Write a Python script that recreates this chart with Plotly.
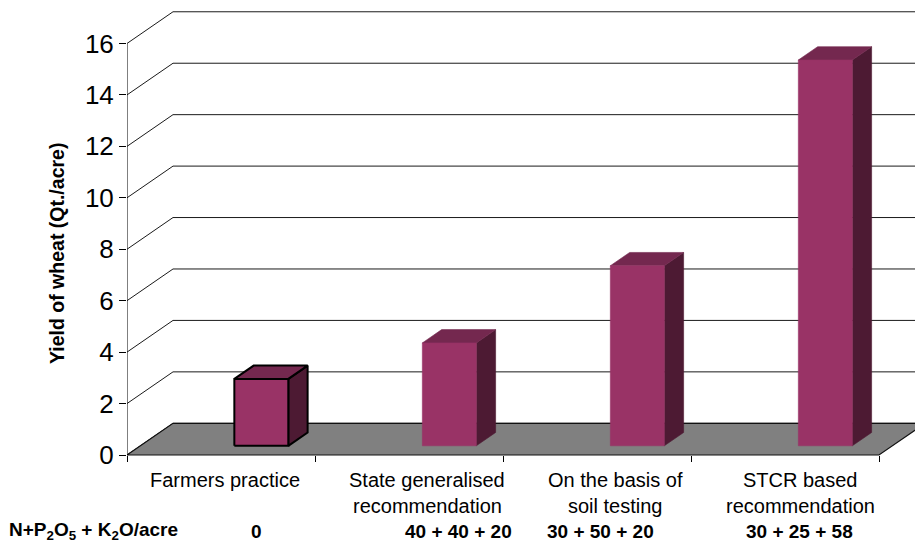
import plotly.graph_objects as go

# ---- data -------------------------------------------------------------
label_line1 = ["Farmers practice", "State generalised", "On the basis of", "STCR based"]
label_line2 = ["", "recommendation", "soil testing", "recommendation"]
yields = [2.6, 4, 7, 15]
doses = ["0", "40 + 40 + 20", "30 + 50 + 20", "30 + 25 + 58"]
dose_title = "N+P<sub>2</sub>O<sub>5</sub> + K<sub>2</sub>O/acre"
y_ticks = [0, 2, 4, 6, 8, 10, 12, 14, 16]

# ---- layout geometry (pixels) ----------------------------------------
W, H = 915, 543
LEFT = 127          # front-left corner of the floor
CAT_PX = 188        # width of one category on the front edge
BASE_PX = 455       # pixel row of value 0 on the front edge
UNIT_PX = 25.72     # pixels per value unit
DEPTH_X_PX, DEPTH_Y_PX = 46.0, 31.7   # oblique offset front -> back wall

# oblique offsets expressed in axis units
DX = DEPTH_X_PX / CAT_PX
DY = DEPTH_Y_PX / UNIT_PX

# bar footprint inside a category (ground units) and depth span
BAR_X0, BAR_W = 0.50, 0.287
D_FRONT, D_BACK = 0.29, 0.71

FRONT = "#993366"
TOP = "#74284F"
SIDE = "#4D1A33"
FLOOR = "#808080"
FONT = "Liberation Sans, Arial, sans-serif"


def proj(x, v, d):
    """Project a point (category x, value v, depth d in 0..1) onto the plane."""
    return x + d * DX, v + d * DY


def poly(points):
    xs, ys = [], []
    for x, v, d in points:
        px, py = proj(x, v, d)
        xs.append(px)
        ys.append(py)
    xs.append(xs[0])
    ys.append(ys[0])
    return xs, ys


fig = go.Figure()

# walls: diagonal lines on the side wall and horizontal lines on the back wall
n_cat = len(yields)
gx, gy = [], []
for v in y_ticks:
    for x, val, d in [(0, v, 0), (0, v, 1), (n_cat + 1, v, 1)]:
        px, py = proj(x, val, d)
        gx.append(px)
        gy.append(py)
    gx.append(None)
    gy.append(None)
fig.add_trace(go.Scatter(x=gx, y=gy, mode="lines",
                         line=dict(color="#1a1a1a", width=1),
                         hoverinfo="skip", showlegend=False))

# floor
fx, fy = poly([(0, 0, 0), (n_cat, 0, 0), (n_cat, 0, 1), (0, 0, 1)])
fig.add_trace(go.Scatter(x=fx, y=fy, mode="lines", fill="toself",
                         fillcolor=FLOOR, line=dict(color="#111111", width=1.2),
                         hoverinfo="skip", showlegend=False))

# columns
for i, v in enumerate(yields):
    xl = i + BAR_X0
    xr = xl + BAR_W
    outlined = i == 0
    faces = [
        (SIDE, [(xr, 0, D_FRONT), (xr, 0, D_BACK), (xr, v, D_BACK), (xr, v, D_FRONT)]),
        (TOP, [(xl, v, D_FRONT), (xr, v, D_FRONT), (xr, v, D_BACK), (xl, v, D_BACK)]),
        (FRONT, [(xl, 0, D_FRONT), (xr, 0, D_FRONT), (xr, v, D_FRONT), (xl, v, D_FRONT)]),
    ]
    for color, pts in faces:
        xs, ys = poly(pts)
        line = dict(color="#000000", width=2) if outlined else dict(color=color, width=0.6)
        fig.add_trace(go.Scatter(x=xs, y=ys, mode="lines", fill="toself",
                                 fillcolor=color, line=line,
                                 hoverinfo="skip", showlegend=False))

# value axis line at the front-left corner
fig.add_trace(go.Scatter(x=[0, 0], y=[0, y_ticks[-1]], mode="lines",
                         line=dict(color="#000000", width=1),
                         hoverinfo="skip", showlegend=False))

plot_w = W - LEFT


def px_x(p):
    return (p - LEFT) / plot_w


def px_y(p):
    return 1 - p / H


annotations = []
label_x = [225, 427, 615, 800]
for lx, l1, l2 in zip(label_x, label_line1, label_line2):
    annotations.append(dict(x=px_x(lx), y=px_y(480), xref="paper", yref="paper",
                            text=l1, showarrow=False, xanchor="center", yanchor="middle",
                            font=dict(family=FONT, size=20, color="#000000")))
    if l2:
        annotations.append(dict(x=px_x(lx), y=px_y(506), xref="paper", yref="paper",
                                text=l2, showarrow=False, xanchor="center", yanchor="middle",
                                font=dict(family=FONT, size=20, color="#000000")))

dose_x = [256, 458, 600, 799]
for dx_, t in zip(dose_x, doses):
    annotations.append(dict(x=px_x(dx_), y=px_y(531), xref="paper", yref="paper",
                            text=f"<b>{t}</b>", showarrow=False,
                            xanchor="center", yanchor="middle",
                            font=dict(family=FONT, size=19, color="#000000")))
annotations.append(dict(x=px_x(7), y=px_y(531), xref="paper", yref="paper",
                        text=f"<b>{dose_title}</b>", showarrow=False,
                        xanchor="left", yanchor="middle",
                        font=dict(family=FONT, size=19, color="#000000")))

annotations.append(dict(x=px_x(57), y=px_y(254), xref="paper", yref="paper",
                        text="<b>Yield of wheat (Qt./acre)</b>", textangle=-90,
                        showarrow=False, xanchor="center", yanchor="middle",
                        font=dict(family=FONT, size=19.5, color="#000000")))

fig.update_layout(
    width=W, height=H,
    margin=dict(l=LEFT, r=0, t=0, b=0),
    paper_bgcolor="white", plot_bgcolor="white",
    showlegend=False,
    annotations=annotations,
    xaxis=dict(range=[0, plot_w / CAT_PX], anchor="free",
               position=(H - BASE_PX) / H,
               tickvals=list(range(n_cat + 1)), ticks="outside", ticklen=6,
               tickcolor="#000000", tickwidth=1,
               showticklabels=False, showgrid=False, zeroline=False, showline=False,
               fixedrange=True),
    yaxis=dict(range=[-(H - BASE_PX) / UNIT_PX, BASE_PX / UNIT_PX],
               tickvals=y_ticks, ticks="outside", ticklen=7,
               tickcolor="#000000", tickwidth=1,
               tickfont=dict(family=FONT, size=26, color="#000000"),
               showgrid=False, zeroline=False, showline=False,
               fixedrange=True),
)

fig.write_html("out.html")
